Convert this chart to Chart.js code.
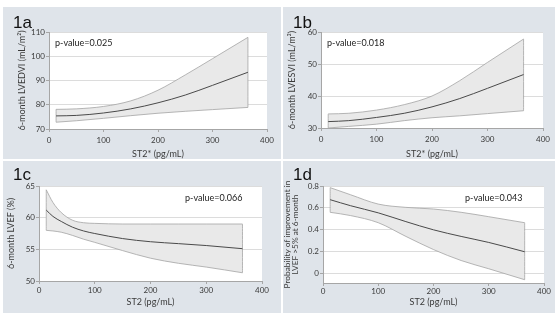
<!DOCTYPE html>
<html>
<head>
<meta charset="utf-8">
<script src="https://cdn.jsdelivr.net/npm/chart.js@4.4.1/dist/chart.umd.min.js"></script>
<style>
  body { margin: 0; background: #fff; width: 560px; height: 313px; position: relative; overflow: hidden; }
  canvas { position: absolute; }
</style>
</head>
<body>
<canvas id="c1a" width="278" height="152" style="left:3px;top:7px"></canvas>
<canvas id="c1b" width="272" height="152" style="left:283px;top:7px"></canvas>
<canvas id="c1c" width="278" height="152" style="left:3px;top:161px"></canvas>
<canvas id="c1d" width="272" height="152" style="left:283px;top:161px"></canvas>
<script>
const st2Ticks = [0, 100, 200, 300, 400];
const st2Pts = [13, 50, 100, 150, 200, 250, 300, 365];
const st2PtsLvef = [13, 25, 40, 60, 80, 100, 150, 200, 250, 300, 365];

// 1a - LVEDVI
const lvedviTicks = [70, 80, 90, 100, 110];
const lvedviFit = [75.4, 75.6, 76.6, 78.3, 80.8, 84.0, 88.0, 93.4];
const lvedviUpper = [78.1, 78.3, 79.3, 81.6, 86.0, 92.3, 99.0, 107.8];
const lvedviLower = [72.8, 73.4, 74.4, 75.5, 76.5, 77.3, 78.0, 78.9];

// 1b - LVESVI
const lvesviTicks = [30, 40, 50, 60];
const lvesviFit = [32.0, 32.3, 33.3, 34.6, 36.6, 39.2, 42.4, 46.7];
const lvesviUpper = [34.4, 34.6, 35.6, 37.3, 40.0, 44.8, 50.5, 57.8];
const lvesviLower = [30.0, 30.5, 31.2, 32.3, 33.2, 33.8, 34.5, 35.4];

// 1c - LVEF
const lvefTicks = [50, 55, 60, 65];
const lvefFit = [61.2, 60.2, 59.4, 58.5, 57.9, 57.5, 56.7, 56.2, 55.9, 55.6, 55.1];
const lvefUpper = [64.4, 62.4, 60.8, 59.6, 59.2, 59.1, 59.0, 59.0, 59.0, 59.0, 59.0];
const lvefLower = [58.0, 57.9, 57.7, 57.2, 56.6, 56.1, 54.8, 53.6, 52.8, 52.2, 51.3];

// 1d - probability of LVEF improvement
const probTicks = [0, 0.2, 0.4, 0.6, 0.8];
const probFit = [0.675, 0.62, 0.555, 0.475, 0.40, 0.34, 0.285, 0.20];
const probUpper = [0.785, 0.72, 0.635, 0.605, 0.59, 0.56, 0.52, 0.465];
const probLower = [0.56, 0.53, 0.465, 0.34, 0.22, 0.12, 0.045, -0.055];

const FONT = "Lato, 'Open Sans', sans-serif";
const panelBg = '#dfe4ea';
const bandColor = '#e9e9e9';
const edgeColor = '#a3a3a3';
const axisColor = '#a6a6a6';
const gridColor = '#dcdcdc';
const textColor = '#3a3a3a';

const panelPlugin = {
    id: 'panel',
    beforeDraw(chart) {
        const ctx = chart.ctx, a = chart.chartArea;
        ctx.save();
        ctx.fillStyle = panelBg;
        ctx.fillRect(0, 0, chart.width, chart.height);
        ctx.fillStyle = '#fff';
        ctx.fillRect(a.left, a.top, a.right - a.left, a.bottom - a.top);
        ctx.restore();
    },
    afterDraw(chart) {
        const o = chart.options.plugins.panel;
        const ctx = chart.ctx;
        ctx.save();
        ctx.fillStyle = '#111';
        ctx.font = "17px 'Liberation Sans', Arial, sans-serif";
        ctx.textBaseline = 'alphabetic';
        ctx.fillText(o.tag, o.tagAt[0], o.tagAt[1]);
        ctx.fillStyle = '#222';
        ctx.font = '9px ' + FONT;
        ctx.textBaseline = 'middle';
        ctx.fillText(o.pText, o.pAt[0], o.pAt[1]);
        ctx.restore();
    }
};

function drawPanel(p) {
    const pts = ys => p.xs.map((x, i) => ({ x: x, y: ys[i] }));
    const n = p.xs.length - 1;
    const curve = { pointRadius: 0, borderWidth: 0.8, borderColor: edgeColor, cubicInterpolationMode: 'monotone', fill: false };
    new Chart(document.getElementById(p.id), {
        type: 'line',
        data: {
            datasets: [
                { data: pts(p.fit), pointRadius: 0, borderWidth: 1, borderColor: '#4a4a4a', cubicInterpolationMode: 'monotone', fill: false },
                { ...curve, data: pts(p.lower) },
                { ...curve, data: pts(p.upper), fill: '-1', backgroundColor: bandColor },
                { ...curve, data: [{ x: p.xs[0], y: p.lower[0] }, { x: p.xs[0], y: p.upper[0] }] },
                { ...curve, data: [{ x: p.xs[n], y: p.lower[n] }, { x: p.xs[n], y: p.upper[n] }] }
            ]
        },
        plugins: [panelPlugin],
        options: {
            responsive: false,
            animation: false,
            layout: { padding: { left: p.padL, right: p.area.r, top: p.area.t, bottom: p.padB } },
            plugins: {
                legend: { display: false },
                tooltip: { enabled: false },
                filler: { drawTime: 'beforeDatasetsDraw' },
                panel: { tag: p.tag, tagAt: p.tagAt, pText: p.pText, pAt: p.pAt }
            },
            scales: {
                x: {
                    type: 'linear', min: 0, max: 400,
                    afterBuildTicks: s => { s.ticks = st2Ticks.map(v => ({ value: v })); },
                    afterFit: s => { s.height = p.area.b - p.padB; },
                    ticks: { font: { family: FONT, size: 8 }, color: textColor, padding: p.xTickPad, maxRotation: 0 },
                    grid: { drawOnChartArea: false, tickLength: 3, color: axisColor },
                    border: { color: axisColor },
                    title: { display: true, text: p.xTitle, font: { family: FONT, size: 9 }, color: textColor, padding: 0 }
                },
                y: {
                    min: p.yMin, max: p.yMax,
                    afterBuildTicks: s => { s.ticks = p.yTicks.map(v => ({ value: v })); },
                    afterFit: s => { s.width = p.area.l - p.padL; },
                    ticks: { font: { family: FONT, size: 8 }, color: textColor, padding: 1 },
                    grid: { color: gridColor, tickColor: axisColor, tickLength: 3 },
                    border: { color: axisColor },
                    title: { display: true, text: p.yTitle, font: { family: FONT, size: p.yTitleSize, lineHeight: 0.9 }, color: textColor, padding: 0 }
                }
            }
        }
    });
}

drawPanel({
    id: 'c1a', tag: '1a', tagAt: [10, 21], pText: 'p-value=0.025', pAt: [52, 36],
    xs: st2Pts, fit: lvedviFit, upper: lvedviUpper, lower: lvedviLower,
    yMin: 70, yMax: 110, yTicks: lvedviTicks,
    yTitle: '6-month LVEDVI (mL/m²)', xTitle: 'ST2* (pg/mL)', yTitleSize: 9,
    area: { l: 46, r: 14, t: 25, b: 30 }, padL: 15, padB: 0, xTickPad: 3.5
});
drawPanel({
    id: 'c1b', tag: '1b', tagAt: [10, 21], pText: 'p-value=0.018', pAt: [44, 36],
    xs: st2Pts, fit: lvesviFit, upper: lvesviUpper, lower: lvesviLower,
    yMin: 30, yMax: 60, yTicks: lvesviTicks,
    yTitle: '6-month LVESVI (mL/m²)', xTitle: 'ST2* (pg/mL)', yTitleSize: 9,
    area: { l: 38, r: 12, t: 25, b: 31 }, padL: 4.6, padB: 0, xTickPad: 3.5
});
drawPanel({
    id: 'c1c', tag: '1c', tagAt: [10, 19], pText: 'p-value=0.066', pAt: [182, 37],
    xs: st2PtsLvef, fit: lvefFit, upper: lvefUpper, lower: lvefLower,
    yMin: 50, yMax: 65, yTicks: lvefTicks,
    yTitle: '6-month LVEF (%)', xTitle: 'ST2 (pg/mL)', yTitleSize: 9,
    area: { l: 36, r: 19, t: 25, b: 32 }, padL: 3.6, padB: 6, xTickPad: 1.5
});
drawPanel({
    id: 'c1d', tag: '1d', tagAt: [10, 19], pText: 'p-value=0.043', pAt: [182, 37],
    xs: st2Pts, fit: probFit, upper: probUpper, lower: probLower,
    yMin: -0.085, yMax: 0.8, yTicks: probTicks,
    yTitle: ['Probability of improvement in', 'LVEF >5% at 6-month'], xTitle: 'ST2 (pg/mL)', yTitleSize: 8.3,
    area: { l: 40, r: 11, t: 25, b: 30 }, padL: 0.8, padB: 5.6, xTickPad: 0.5
});
</script>
</body>
</html>
